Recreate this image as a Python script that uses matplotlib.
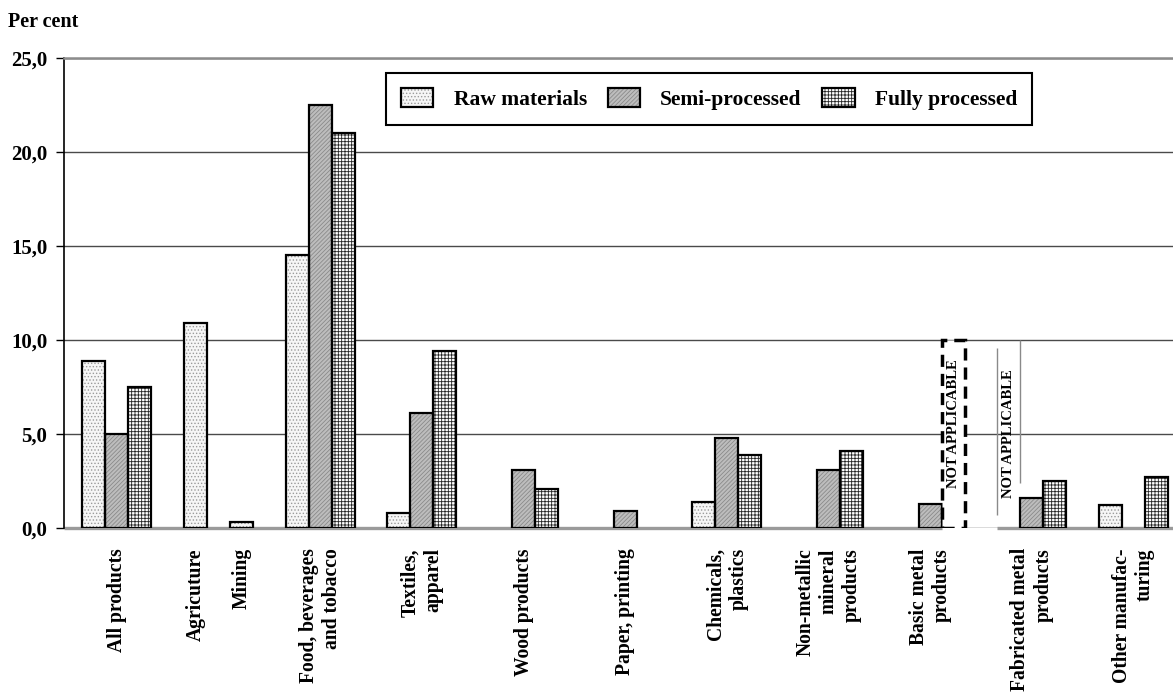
import matplotlib
matplotlib.use("Agg")
import matplotlib.pyplot as plt
from matplotlib.patches import Patch, Rectangle
import numpy as np

plt.rcParams['font.family'] = ['Liberation Serif', 'DejaVu Serif']
plt.rcParams['font.weight'] = 'bold'
plt.rcParams['hatch.linewidth'] = 0.6

# tariff averages by stage of processing, per cent
categories = ['All products', 'Agricuture', 'Mining', 'Food, beverages\nand tobacco',
              'Textiles,\napparel', 'Wood products', 'Paper, printing',
              'Chemicals,\nplastics', 'Non-metallic\nmineral\nproducts',
              'Basic metal\nproducts', 'Fabricated metal\nproducts',
              'Other manufac-\nturing']
series_names = ['Raw materials', 'Semi-processed', 'Fully processed']
nan = np.nan
raw_materials = [8.9, 10.9, 0.3, 14.5, 0.8, nan, nan, 1.4, nan, nan, nan, 1.2]
semi_processed = [5.0, nan, nan, 22.5, 6.1, 3.1, 0.9, 4.8, 3.1, 1.3, 1.6, nan]
fully_processed = [7.5, nan, nan, 21.0, 9.4, 2.1, nan, 3.9, 4.1, nan, 2.5, 2.7]
# (category, series) pairs with no data
not_applicable = [(9, 2), (10, 0)]
yticks = [0, 5, 10, 15, 20, 25]

# layout: one slot per group, agriculture and mining share a slot
slot = [0, 1, 1, 2, 3, 4, 5, 6, 7, 8, 9, 10]
shift = {2: 2.0}
w = 1.0
spacing = 4.42
first = 2.3

fig = plt.figure(figsize=(11.73, 6.95), dpi=100)
ax = fig.add_axes([64 / 1173, 1 - 528 / 695, 1 - 64 / 1173, 470 / 695])

styles = [
    dict(fc='#f6f6f6', hatch='.....', hc='#9a9a9a'),
    dict(fc='#bdbdbd', hatch='////////', hc='#8a8a8a'),
    dict(fc='white', hatch='+++++', hc='#262626'),
]

centres = first + spacing * np.array(slot, dtype=float)
for i, s in shift.items():
    centres[i] += s

series = [raw_materials, semi_processed, fully_processed]
for j, vals in enumerate(series):
    vals = np.array(vals, dtype=float)
    ok = ~np.isnan(vals)
    xs = centres[ok] + (j - 1) * w
    st = styles[j]
    ax.bar(xs, vals[ok], width=w, color=st['fc'], hatch=st['hatch'],
           edgecolor=st['hc'], linewidth=0, zorder=3)
    ax.bar(xs, vals[ok], width=w, fill=False, edgecolor='black',
           linewidth=1.6, zorder=4)

# "not applicable" markers
ci, sj = not_applicable[0]
bx = centres[ci] + (sj - 1) * w - w / 2
ax.add_patch(Rectangle((bx, 0), w, 10, facecolor='white', edgecolor='black',
                       linewidth=2.5, linestyle=(0, (3.5, 2)), zorder=5))
ax.text(bx + w / 2, 5.55, 'NOT APPLICABLE', rotation=90, ha='center',
        va='center', fontsize=10.5, fontweight='bold', zorder=6)

ci2, sj2 = not_applicable[1]
bx2 = centres[ci2] + (sj2 - 1) * w - w / 2
ax.vlines(bx2, 0.7, 9.6, color='#8a8a8a', linewidth=1.0, zorder=3)
ax.vlines(bx2 + w, 2.4, 10.0, color='#8a8a8a', linewidth=1.0, zorder=3)
ax.text(bx2 + w / 2, 5.0, 'NOT APPLICABLE', rotation=90, ha='center',
        va='center', fontsize=10.5, fontweight='bold', zorder=6)

xmax = (1173 - 64) / 23
ax.set_xlim(0, xmax)
ax.set_ylim(0, 25)

# zero line, broken around the markers
ax.hlines(0, 0, bx, color='#9a9a9a', linewidth=2.4, zorder=2, clip_on=False)
ax.hlines(0, bx2, xmax, color='#9a9a9a', linewidth=2.4, zorder=2, clip_on=False)

ax.set_yticks(yticks)
ax.set_yticklabels([f'{v:.1f}'.replace('.', ',') for v in yticks],
                   fontsize=15, fontweight='bold')
ax.yaxis.grid(True, color='#4a4a4a', linewidth=1.0)
ax.set_axisbelow(True)
ax.tick_params(axis='y', direction='out', length=6, width=1.0, pad=6)

label_x = first + spacing * np.array(slot, dtype=float)
label_x[1] = centres[1] - w
label_x[2] = centres[2] - w
ax.set_xticks(label_x)
ax.set_xticklabels(categories, rotation=90, ha='center', va='top',
                   multialignment='right', fontsize=14.1, fontweight='bold')
ax.tick_params(axis='x', length=0, pad=14.5)

for side in ['right', 'bottom']:
    ax.spines[side].set_visible(False)
ax.spines['top'].set_color('#8c8c8c')
ax.spines['top'].set_linewidth(1.8)
ax.spines['left'].set_linewidth(1.2)

handles = [(Patch(facecolor=st['fc'], hatch=st['hatch'], edgecolor=st['hc'], linewidth=0),
            Patch(fill=False, edgecolor='black', linewidth=1.6)) for st in styles]
leg = ax.legend(handles, series_names, ncol=3, loc='upper left',
                bbox_to_anchor=(386 / 1173, 1 - 73 / 695),
                bbox_transform=fig.transFigure, frameon=True, fancybox=False,
                edgecolor='black', framealpha=1, handlelength=1.5,
                handleheight=0.95, handletextpad=0.95, columnspacing=0.95,
                borderpad=0.7, borderaxespad=0,
                prop={'weight': 'bold', 'size': 15.5})
leg.get_frame().set_linewidth(1.5)

fig.text(8 / 1173, 1 - 22 / 695, 'Per cent', ha='left', va='center',
         fontsize=14.5, fontweight='bold')

fig.savefig('out.png', dpi=100)
